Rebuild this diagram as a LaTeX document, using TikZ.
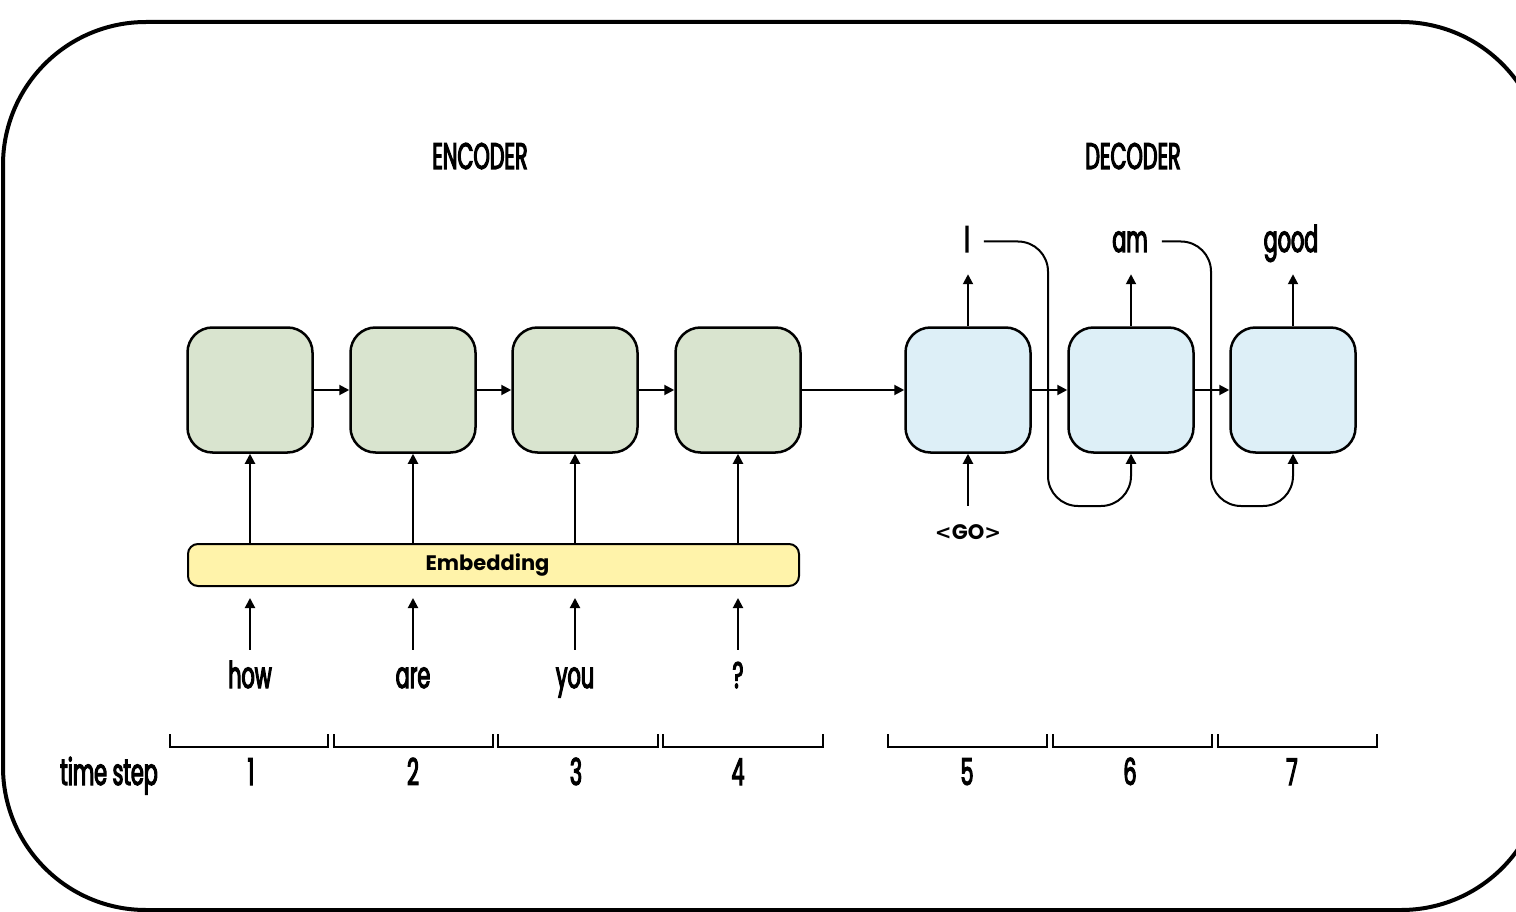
\documentclass[tikz,border=0pt]{standalone}
\usepackage{fontspec}
\usetikzlibrary{arrows.meta,calc}
\newfontfamily\condfont[FakeStretch=0.56,FakeBold=3]{Poppins}
\newfontfamily\medfont{Poppins}
\newfontfamily\anglefont{DejaVu Sans}

\definecolor{encfill}{HTML}{D9E4CF}
\definecolor{decfill}{HTML}{DDEFF7}
\definecolor{embfill}{HTML}{FFF3AA}

\tikzset{
  cell/.style={draw, line width=2.5pt, rounded corners=25pt,
    minimum width=125pt, minimum height=125pt, inner sep=0pt},
  enccell/.style={cell, fill=encfill},
  deccell/.style={cell, fill=decfill},
  arr/.style={line width=2pt, -{Triangle[length=10pt,width=10pt]}},
  bracket/.style={line width=2pt},
  word/.style={font=\condfont\fontsize{37}{40}\selectfont, anchor=base,
    inner sep=0pt, text height=29pt, text depth=8pt},
  boldlab/.style={font=\medfont\bfseries\fontsize{21}{26}\selectfont,
    inner sep=0pt, text height=17pt, text depth=0pt},
}

\begin{document}
\begin{tikzpicture}[x=1pt, y=-1pt]
  \fill[white] (0,0) rectangle (1516,912);
  \useasboundingbox (0,0) rectangle (1516,912);

  % outer frame, running off the right edge
  \draw[line width=4pt, rounded corners=143pt] (3,22) rectangle (1544,910);

  % titles
  \node[word] (enctitle) at (480,169) {ENCODER};
  \node[word] (dectitle) at (1133,169) {DECODER};

  % encoder cells
  \node[enccell] (e1) at (250,390) {};
  \node[enccell] (e2) at (413,390) {};
  \node[enccell] (e3) at (575,390) {};
  \node[enccell] (e4) at (738,390) {};

  % decoder cells
  \node[deccell] (d1) at (968,390) {};
  \node[deccell] (d2) at (1131,390) {};
  \node[deccell] (d3) at (1293,390) {};

  % embedding layer
  \node[draw, line width=2pt, fill=embfill, rounded corners=10pt,
        minimum width=611pt, minimum height=42pt, inner sep=0pt,
        font=\medfont\bfseries\fontsize{21}{26}\selectfont]
        (emb) at (493.5,565) {Embedding\hspace*{12pt}};

  % recurrent links
  \draw[arr] (e1.east) -- (e2.west);
  \draw[arr] (e2.east) -- (e3.west);
  \draw[arr] (e3.east) -- (e4.west);
  \draw[arr] (e4.east) -- (d1.west);
  \draw[arr] (d1.east) -- (d2.west);
  \draw[arr] (d2.east) -- (d3.west);

  % embedding into encoder cells
  \foreach \c in {e1,e2,e3,e4}
    \draw[arr] (emb.north -| \c.south) -- (\c.south);

  % input words
  \node[word] (w1) at (250,688) {how};
  \node[word] (w2) at (413,688) {are};
  \node[word] (w3) at (575,688) {you};
  \node[word] (w4) at (738,688) {?};
  \foreach \w/\c in {w1/e1,w2/e2,w3/e3,w4/e4}
    \draw[arr] ($(\w.north -| \c.south)+(0,-9)$) -- ($(emb.south -| \c.south)+(0,11)$);

  % decoder start token
  \node[boldlab] (go) at (968,530.5) {{\anglefont\bfseries\fontsize{20}{24}\selectfont<}GO{\anglefont\bfseries\fontsize{20}{24}\selectfont>}};
  \draw[arr] ($(go.north)+(0,-16)$) -- (d1.south);

  % decoder outputs
  \node[word] (o1) at (967,252) {I};
  \node[word] (o2) at (1130,252) {am};
  \node[word] (o3) at (1291,252) {good};
  \draw[arr] (d1.north) -- ($(d1.north)+(0,-52)$);
  \draw[arr] (d2.north) -- ($(d2.north)+(0,-52)$);
  \draw[arr] (d3.north) -- ($(d3.north)+(0,-52)$);

  % outputs fed back as next inputs
  \draw[arr, rounded corners=30pt] ($(o1.east)+(14,0)$) -| (1048,506) -| (d2.south);
  \draw[arr, rounded corners=30pt] ($(o2.east)+(14,0)$) -| (1211,506) -| (d3.south);

  % time step brackets
  \foreach \a/\b in {170/328, 334/493, 498/658, 663/823, 888/1047, 1053/1212, 1218/1377}
    \draw[bracket] (\a,734) -- (\a,747) -- (\b,747) -- (\b,734);

  \node[word] (ts) at (109,785) {time step};
  \node[word] (t1) at (251,785) {1};
  \node[word] (t2) at (413,785) {2};
  \node[word] (t3) at (576,785) {3};
  \node[word] (t4) at (738,785) {4};
  \node[word] (t5) at (967,785) {5};
  \node[word] (t6) at (1130,785) {6};
  \node[word] (t7) at (1292,785) {7};
\end{tikzpicture}
\end{document}
